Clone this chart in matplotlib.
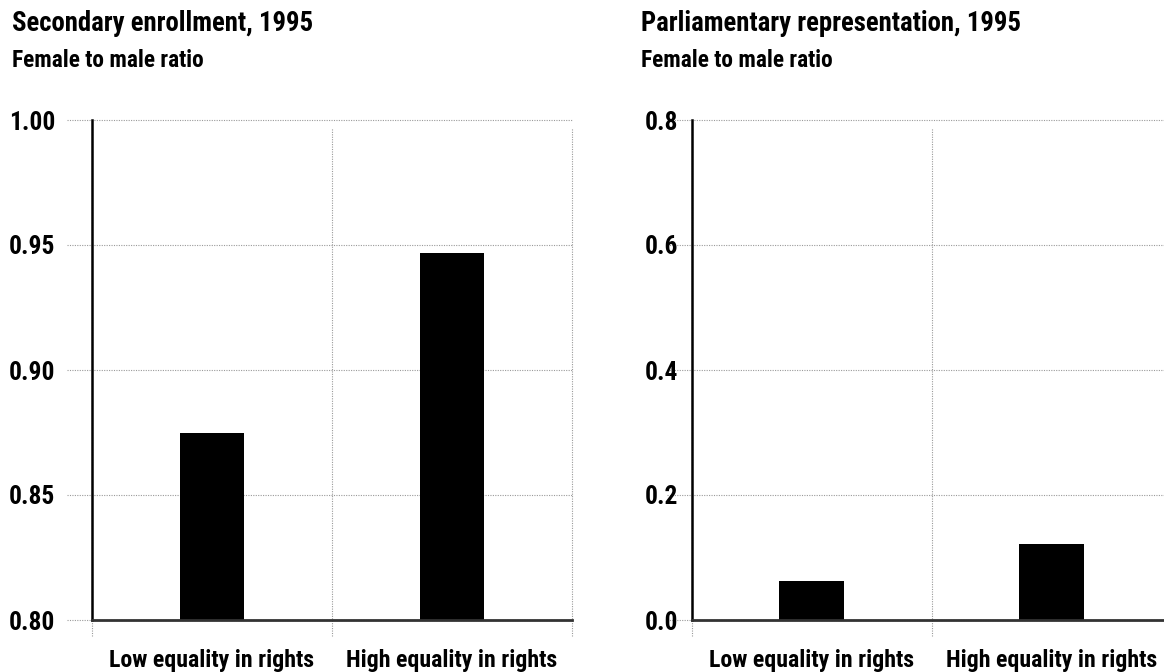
import os
import matplotlib
matplotlib.use("Agg")
import matplotlib.pyplot as plt
from matplotlib import font_manager as fm
from matplotlib.textpath import TextPath
from matplotlib.transforms import blended_transform_factory

# ---- data ----
categories = ["Low equality in rights", "High equality in rights"]
enroll_values = [0.875, 0.947]
parl_values = [0.062, 0.121]
enroll_ticks = [0.80, 0.85, 0.90, 0.95, 1.00]
enroll_ticklabels = ["0.80", "0.85", "0.90", "0.95", "1.00"]
parl_ticks = [0.0, 0.2, 0.4, 0.6, 0.8]
parl_ticklabels = ["0.0", "0.2", "0.4", "0.6", "0.8"]
titles = ["Secondary enrollment, 1995", "Parliamentary representation, 1995"]
subtitle = "Female to male ratio"

# ---- font: prefer a condensed bold face ----
prefs = ["robotocondensed-bold", "roboto_condensed-bold", "robotocondensed-black",
         "opensanscondensed-bold", "opensans_condensed-bold",
         "liberationsansnarrow-bold", "dejavusanscondensed-bold"]
files = [f.fname for f in fm.fontManager.ttflist]
FONT_FILE = None
for p in prefs:
    for fn in files:
        b = os.path.basename(fn).lower().replace(" ", "")
        if b.startswith(p) and "italic" not in b:
            FONT_FILE = fn
            break
    if FONT_FILE:
        break
if FONT_FILE is None:
    for f in fm.fontManager.ttflist:
        b = os.path.basename(f.fname).lower()
        if ("condensed" in b or "narrow" in b) and "bold" in b and "italic" not in b:
            FONT_FILE = f.fname
            break


def FP(size):
    if FONT_FILE:
        return fm.FontProperties(fname=FONT_FILE, size=size)
    return fm.FontProperties(family=["Roboto", "DejaVu Sans"], weight="bold",
                             size=size)


DPI = 100


def fit(text, target_px):
    # font size (pt) so that the text is target_px wide at DPI
    w = TextPath((0, 0), text, size=72, prop=FP(72)).get_extents().width
    return 72 * target_px * 72 / (w * DPI)


W, H = 1164, 672
fig = plt.figure(figsize=(W / DPI, H / DPI), dpi=DPI)
fig.patch.set_facecolor("white")

S_TITLE = fit(titles[0], 300)
S_SUB = fit(subtitle, 190)
S_TICK = fit("1.00", 43)
S_CAT = fit(categories[0], 203)

BAR_W = 0.27
GRID_KW = dict(color="#9a9a9a", linestyle=(0, (1, 1.2)), linewidth=0.8)


def panel(rect, values, yticks, yticklabels, xlim, title_x, title, vgrid,
          label_pad_px):
    ax = fig.add_axes(rect)
    x = list(range(len(values)))
    ax.set_xlim(*xlim)
    ax.set_ylim(yticks[0], yticks[-1])
    for yt in yticks:
        ax.axhline(yt, xmin=-25 / (rect[2] * W), xmax=1, clip_on=False,
                   zorder=0.5, **GRID_KW)
    for xv in vgrid:
        ax.axvline(xv, ymin=-16 / 500, ymax=0.985, clip_on=False, zorder=0.5,
                   **GRID_KW)
    ax.bar(x, [v - yticks[0] for v in values], bottom=yticks[0],
           width=BAR_W, color="black", zorder=2)
    for s in ["top", "right"]:
        ax.spines[s].set_visible(False)
    ax.spines["left"].set_linewidth(1.8)
    ax.spines["left"].set_color("black")
    ax.spines["bottom"].set_linewidth(2.0)
    ax.spines["bottom"].set_color("#333333")
    ax.spines["bottom"].set_zorder(3)
    ax.set_yticks(yticks)
    ax.set_yticklabels(yticklabels, fontproperties=FP(S_TICK))
    ax.tick_params(axis="y", length=0, pad=label_pad_px * 72 / DPI)
    ax.set_xticks([])
    tr = blended_transform_factory(ax.transData, fig.transFigure)
    for xi, lab in zip(x, categories):
        ax.text(xi, 1 - 667 / H, lab, transform=tr,
                ha="center", va="baseline", fontproperties=FP(S_CAT))
    fig.text(title_x / W, 1 - 31 / H, title,
             ha="left", va="baseline", fontproperties=FP(S_TITLE))
    fig.text(title_x / W, 1 - 67 / H, subtitle,
             ha="left", va="baseline", fontproperties=FP(S_SUB))
    return ax


panel([92 / W, 52 / H, 480 / W, 500 / H], enroll_values, enroll_ticks,
      enroll_ticklabels, (-0.5, 1.5), 12, titles[0], [-0.5, 0.5, 1.5], 37)
panel([692 / W, 52 / H, 472 / W, 500 / H], parl_values, parl_ticks,
      parl_ticklabels, (-0.5, 1.47), 641, titles[1], [-0.5, 0.5], 14)

fig.savefig("out.png", dpi=DPI, facecolor="white")
